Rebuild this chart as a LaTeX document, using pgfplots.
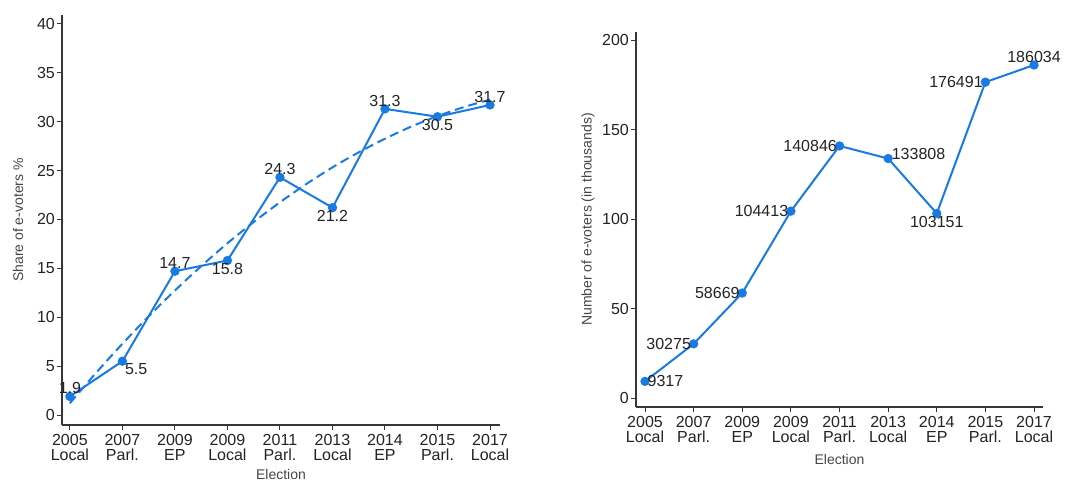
\documentclass[border=0pt]{standalone}
\usepackage{pgfplots}
\pgfplotsset{compat=1.18}
\usepackage{fontspec}
\setmainfont{Liberation Sans}
\definecolor{lineblue}{RGB}{26,122,228}
\definecolor{axgray}{RGB}{55,55,55}
\definecolor{txtgray}{RGB}{35,35,35}
\definecolor{ttlgray}{RGB}{70,70,70}

\tikzset{ttl/.style={font=\fontsize{14}{14}\selectfont, text=ttlgray}}

\pgfplotsset{
 stataaxis/.style={
  scale only axis,
  axis lines=left,
  axis line style={-, draw=axgray, line width=1.6pt},
  tick align=outside,
  major tick length=5pt,
  tick style={draw=axgray, line width=1pt},
  xtick={0,...,8},
  xticklabels={{2005\\Local},{2007\\Parl.},{2009\\EP},{2009\\Local},{2011\\Parl.},{2013\\Local},{2014\\EP},{2015\\Parl.},{2017\\Local}},
  x tick label style={align=center, font=\fontsize{16}{15}\selectfont, text=txtgray, inner sep=1pt, yshift=-3pt},
  y tick label style={font=\fontsize{16}{16}\selectfont, text=txtgray, inner sep=2pt},
  /pgf/number format/assume math mode=true,
  xlabel={Election},
  clip=false,
 },
 dataline/.style={color=lineblue, line width=2pt, mark=*, mark size=3.6pt, mark options={solid, fill=lineblue, draw=lineblue}},
 lbl/.style={draw=none, mark=none, nodes near coords, point meta=explicit symbolic,
   every node near coord/.append style={font=\fontsize{16}{16}\selectfont, text=txtgray, inner sep=1.5pt}},
}

\begin{document}
\begin{tikzpicture}[x=1pt,y=1pt]
\useasboundingbox (0,0) rectangle (1075,481);

% ---------- left panel ----------
\begin{axis}[stataaxis, at={(62pt,56pt)}, anchor=south west,
  width=438pt, height=410pt,
  xmin=-0.15, xmax=8.19, ymin=-1.02, ymax=40.9,
  ytick={0,5,...,40},
  ylabel={Share of e-voters \%},
  every axis y label/.style={ttl, at={(axis description cs:-0.1,0.5)}, rotate=90, anchor=center},
  every axis x label/.style={ttl, at={(axis description cs:0.5,-0.12)}, anchor=center}]
% fitted quadratic trend
\addplot[color=lineblue, line width=2pt, dash pattern=on 9pt off 5pt, smooth] coordinates {
 (0,1.21) (0.5,4.32) (1,7.28) (1.5,10.09) (2,12.73) (2.5,15.22) (3,17.56) (3.5,19.73)
 (4,21.75) (4.5,23.61) (5,25.32) (5.5,26.86) (6,28.25) (6.5,29.49) (7,30.56) (7.5,31.48) (8,32.25)};
\addplot[dataline] coordinates {
 (0,1.9) (1,5.5) (2,14.7) (3,15.8) (4,24.3) (5,21.2) (6,31.3) (7,30.5) (8,31.7)};
% labels above
\addplot[lbl, every node near coord/.append style={anchor=south, yshift=1pt}] coordinates {
 (0,1.9)[1.9] (2,14.7)[14.7] (4,24.3)[24.3] (6,31.3)[31.3] (8,31.7)[31.7]};
% labels below
\addplot[lbl, every node near coord/.append style={anchor=north, yshift=-1pt}] coordinates {
 (3,15.8)[15.8] (5,21.2)[21.2] (7,30.5)[30.5]};
% label below right
\addplot[lbl, every node near coord/.append style={anchor=north west, xshift=1pt, yshift=-1pt}] coordinates {
 (1,5.5)[5.5]};
\end{axis}

% ---------- right panel ----------
\begin{axis}[stataaxis, at={(636pt,74pt)}, anchor=south west,
  width=407pt, height=375pt,
  xmin=-0.185, xmax=8.185, ymin=-5, ymax=204.5,
  ytick={0,50,...,200},
  ylabel={Number of e-voters (in thousands)},
  every axis y label/.style={ttl, at={(axis description cs:-0.118,0.5)}, rotate=90, anchor=center},
  every axis x label/.style={ttl, at={(axis description cs:0.5,-0.139)}, anchor=center}]
\addplot[dataline] coordinates {
 (0,9.317) (1,30.275) (2,58.669) (3,104.413) (4,140.846) (5,133.808) (6,103.151) (7,176.491) (8,186.034)};
% labels left
\addplot[lbl, every node near coord/.append style={anchor=east, xshift=-1pt}] coordinates {
 (1,30.275)[30275] (2,58.669)[58669] (3,104.413)[104413] (4,140.846)[140846] (7,176.491)[176491]};
% label right
\addplot[lbl, every node near coord/.append style={anchor=west, xshift=1pt}] coordinates {
 (0,9.317)[9317]};
% label above right
\addplot[lbl, every node near coord/.append style={anchor=south west, xshift=2pt, yshift=-3pt}] coordinates {
 (5,133.808)[133808]};
% label below
\addplot[lbl, every node near coord/.append style={anchor=north, yshift=-1pt}] coordinates {
 (6,103.151)[103151]};
% label above
\addplot[lbl, every node near coord/.append style={anchor=south, yshift=1pt}] coordinates {
 (8,186.034)[186034]};
\end{axis}
\end{tikzpicture}
\end{document}
